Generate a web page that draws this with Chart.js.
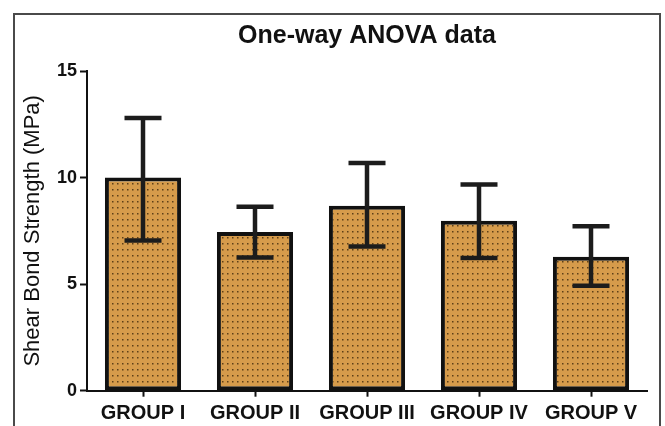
<!DOCTYPE html>
<html>
<head>
<meta charset="utf-8">
<script src="https://cdn.jsdelivr.net/npm/chart.js@4.4.1/dist/chart.umd.min.js"></script>
<style>
  html, body { margin: 0; padding: 0; background: #fff; }
  #wrap { position: relative; width: 665px; height: 426px; }
  #frame { position: absolute; left: 13px; top: 13px; width: 648px; height: 420px;
           border: 2px solid #4a4a4a; border-bottom: none; box-sizing: border-box; }
  canvas { position: absolute; left: 0; top: 0; }
</style>
</head>
<body>
<div id="wrap">
  <div id="frame"></div>
  <canvas id="c" width="665" height="426"></canvas>
</div>
<script>
// data
const groups = ['GROUP I', 'GROUP II', 'GROUP III', 'GROUP IV', 'GROUP V'];
const means = [10.0, 7.45, 8.68, 7.97, 6.29];
const errHigh = [12.8, 8.63, 10.68, 9.67, 7.72];
const errLow = [7.05, 6.25, 6.77, 6.23, 4.93];
const yTicks = [0, 5, 10, 15];

const FONT = "'Liberation Sans', Arial, sans-serif";

// dotted tan fill, like the printed figure
function dotPattern() {
    const p = document.createElement('canvas');
    p.width = 5; p.height = 6;
    const g = p.getContext('2d');
    g.fillStyle = '#d69b4b';
    g.fillRect(0, 0, 5, 6);
    g.fillStyle = '#5e4019';
    g.fillRect(2, 3, 1.5, 1.5);
    return g.createPattern(p, 'repeat');
}

const errorBars = {
    id: 'errorBars',
    afterDatasetsDraw(chart) {
        const ctx = chart.ctx;
        const y = chart.scales.y;
        const meta = chart.getDatasetMeta(0);
        ctx.save();
        ctx.strokeStyle = '#1c1c1c';
        ctx.lineWidth = 4.5;
        meta.data.forEach((bar, i) => {
            const yh = y.getPixelForValue(errHigh[i]);
            const yl = y.getPixelForValue(errLow[i]);
            ctx.beginPath();
            ctx.moveTo(bar.x, yh);
            ctx.lineTo(bar.x, yl);
            ctx.moveTo(bar.x - 18.5, yh);
            ctx.lineTo(bar.x + 18.5, yh);
            ctx.moveTo(bar.x - 18.5, yl);
            ctx.lineTo(bar.x + 18.5, yl);
            ctx.stroke();
        });
        ctx.restore();
    }
};

new Chart(document.getElementById('c'), {
    type: 'bar',
    data: {
        labels: groups,
        datasets: [{
            data: means,
            backgroundColor: dotPattern(),
            borderColor: '#111',
            borderWidth: 4,
            borderSkipped: false,
            categoryPercentage: 0.68,
            barPercentage: 1
        }]
    },
    options: {
        responsive: false,
        animation: false,
        devicePixelRatio: 1,
        layout: { padding: { left: 0, right: 18, top: 0, bottom: 0 } },
        plugins: {
            legend: { display: false },
            tooltip: { enabled: false },
            title: {
                display: true,
                fullSize: false,
                text: 'One-way ANOVA data',
                color: '#111',
                font: { family: FONT, size: 25, weight: 'bold' },
                padding: { top: 21, bottom: 20 }
            }
        },
        scales: {
            x: {
                offset: true,
                grid: { offset: false, drawOnChartArea: false, drawTicks: true, tickLength: 6, tickWidth: 2, color: '#111' },
                border: { color: '#111', width: 2 },
                ticks: { color: '#111', padding: 5, font: { family: FONT, size: 20, weight: 'bold' } },
                afterFit(scale) { scale.height = 35.3; }
            },
            y: {
                min: 0,
                max: 15,
                afterBuildTicks(scale) { scale.ticks = yTicks.map(v => ({ value: v })); },
                grid: { drawOnChartArea: false, drawTicks: true, tickLength: 7, tickWidth: 2, color: '#111' },
                border: { color: '#111', width: 2 },
                ticks: { color: '#111', padding: 3, font: { family: FONT, size: 18, weight: 'bold' } },
                title: {
                    display: true,
                    text: 'Shear Bond Strength (MPa)',
                    color: '#111',
                    font: { family: FONT, size: 22 },
                    padding: { top: 20, bottom: 0 }
                },
                afterFit(scale) { scale.width = 87; }
            }
        }
    },
    plugins: [errorBars]
});
</script>
</body>
</html>
